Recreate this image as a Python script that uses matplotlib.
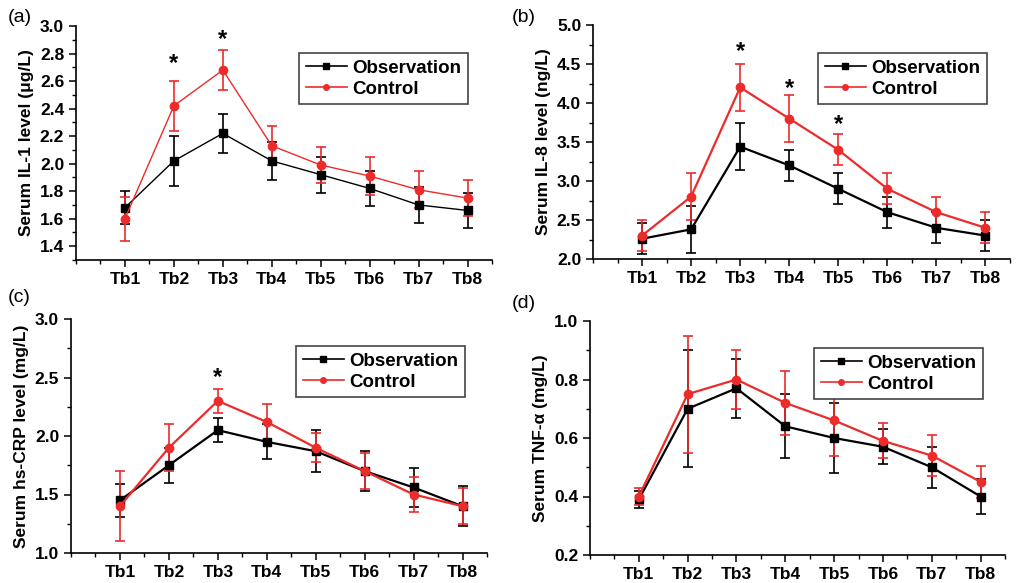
import matplotlib
matplotlib.use('Agg')
import matplotlib.pyplot as plt
from matplotlib.lines import Line2D
from matplotlib.ticker import MultipleLocator

plt.rcParams['font.family'] = ['Liberation Sans', 'DejaVu Sans']

timepoints = ['Tb1', 'Tb2', 'Tb3', 'Tb4', 'Tb5', 'Tb6', 'Tb7', 'Tb8']

# (a) IL-1
il1_obs = [1.68, 2.02, 2.22, 2.02, 1.92, 1.82, 1.70, 1.66]
il1_obs_err = [0.12, 0.18, 0.14, 0.14, 0.13, 0.13, 0.13, 0.13]
il1_ctl = [1.60, 2.42, 2.68, 2.13, 1.99, 1.91, 1.81, 1.75]
il1_ctl_err = [0.16, 0.18, 0.145, 0.14, 0.13, 0.14, 0.135, 0.133]
il1_star = {2: 2.73, 3: 2.90}

# (b) IL-8
il8_obs = [2.26, 2.38, 3.44, 3.20, 2.90, 2.60, 2.40, 2.30]
il8_obs_err = [0.2, 0.3, 0.3, 0.2, 0.2, 0.2, 0.2, 0.2]
il8_ctl = [2.30, 2.80, 4.20, 3.80, 3.40, 2.90, 2.60, 2.40]
il8_ctl_err = [0.2, 0.3, 0.3, 0.3, 0.2, 0.2, 0.2, 0.2]
il8_star = {3: 4.66, 4: 4.19, 5: 3.72}

# (c) hs-CRP
crp_obs = [1.45, 1.75, 2.05, 1.95, 1.87, 1.70, 1.56, 1.40]
crp_obs_err = [0.14, 0.15, 0.10, 0.15, 0.18, 0.17, 0.17, 0.17]
crp_ctl = [1.40, 1.90, 2.30, 2.12, 1.90, 1.70, 1.50, 1.40]
crp_ctl_err = [0.30, 0.20, 0.10, 0.155, 0.125, 0.155, 0.15, 0.155]
crp_star = {3: 2.50}

# (d) TNF-alpha
tnf_obs = [0.39, 0.70, 0.77, 0.64, 0.60, 0.57, 0.50, 0.40]
tnf_obs_err = [0.03, 0.20, 0.10, 0.11, 0.12, 0.06, 0.07, 0.06]
tnf_ctl = [0.40, 0.75, 0.80, 0.72, 0.66, 0.59, 0.54, 0.45]
tnf_ctl_err = [0.03, 0.20, 0.10, 0.11, 0.12, 0.06, 0.07, 0.055]
tnf_star = {}

RED = '#ec2b2b'
W, H = 1027.0, 583.0


def px_box(left, top, right, bottom):
    return [left / W, 1 - bottom / H, (right - left) / W, (bottom - top) / H]


panels = [
    dict(box=px_box(76, 26, 492, 260), obs=il1_obs, obs_err=il1_obs_err,
         ctl=il1_ctl, ctl_err=il1_ctl_err, stars=il1_star,
         ylim=(1.3, 3.0), major=0.2, minor=0.1, lw=1.0,
         ylabel='Serum IL-1 level (\u03bcg/L)', tag='(a)', tag_xy=(8, 17),
         leg_xy=(299, 53)),
    dict(box=px_box(593, 25, 1010, 259), obs=il8_obs, obs_err=il8_obs_err,
         ctl=il8_ctl, ctl_err=il8_ctl_err, stars=il8_star,
         ylim=(2.0, 5.0), major=0.5, minor=0.25, lw=1.6,
         ylabel='Serum IL-8 level (ng/L)', tag='(b)', tag_xy=(512, 17),
         leg_xy=(818, 53)),
    dict(box=px_box(71, 319, 487, 553), obs=crp_obs, obs_err=crp_obs_err,
         ctl=crp_ctl, ctl_err=crp_ctl_err, stars=crp_star,
         ylim=(1.0, 3.0), major=0.5, minor=0.25, lw=1.6,
         ylabel='Serum hs-CRP level (mg/L)', tag='(c)', tag_xy=(8, 297),
         leg_xy=(296, 346)),
    dict(box=px_box(590, 321, 1005, 555), obs=tnf_obs, obs_err=tnf_obs_err,
         ctl=tnf_ctl, ctl_err=tnf_ctl_err, stars=tnf_star,
         ylim=(0.2, 1.0), major=0.2, minor=0.1, lw=1.6,
         ylabel='Serum TNF-\u03b1 (mg/L)', tag='(d)', tag_xy=(512, 303),
         leg_xy=(814, 348)),
]

fig = plt.figure(figsize=(10.27, 5.83), dpi=100)
x = list(range(1, len(timepoints) + 1))

for p in panels:
    ax = fig.add_axes(p['box'])
    ax.errorbar(x, p['obs'], yerr=p['obs_err'], fmt='-s', color='black',
                ms=6, lw=p['lw'], elinewidth=1.2, capsize=3.5, capthick=1.2)
    ax.errorbar(x, p['ctl'], yerr=p['ctl_err'], fmt='-o', color=RED,
                ms=6, lw=p['lw'], elinewidth=1.2, capsize=3.5, capthick=1.2)
    for k, v in p['stars'].items():
        ax.text(k, v, '*', ha='center', va='center', fontsize=17,
                fontweight='bold')

    ax.set_xlim(0, 8.5)
    ax.set_ylim(*p['ylim'])
    ax.set_xticks(x)
    ax.set_xticklabels(timepoints)
    ax.xaxis.set_minor_locator(MultipleLocator(0.5))
    ax.yaxis.set_major_locator(MultipleLocator(p['major']))
    ax.yaxis.set_minor_locator(MultipleLocator(p['minor']))
    ax.yaxis.set_major_formatter(plt.FormatStrFormatter('%.1f'))
    for side in ('top', 'right'):
        ax.spines[side].set_visible(False)
    for side in ('left', 'bottom'):
        ax.spines[side].set_linewidth(1.2)
    ax.tick_params(which='major', direction='out', length=5, width=1.1,
                   labelsize=12.5)
    ax.tick_params(which='minor', direction='out', length=3, width=1.0)
    for lab in ax.get_xticklabels() + ax.get_yticklabels():
        lab.set_fontweight('bold')
    ax.set_ylabel(p['ylabel'], fontsize=12.5, fontweight='bold', labelpad=4)

    # legend shows line + marker only, no error bars
    handles = [
        Line2D([], [], color='black', marker='s', ms=4, lw=1.2),
        Line2D([], [], color=RED, marker='o', ms=4, lw=1.2),
    ]
    leg = ax.legend(handles, ['Observation', 'Control'], loc='upper left',
                    bbox_to_anchor=(p['leg_xy'][0] / W, 1 - p['leg_xy'][1] / H),
                    bbox_transform=fig.transFigure, borderaxespad=0,
                    fancybox=False, framealpha=1, edgecolor='#444444',
                    prop={'size': 13.5, 'weight': 'bold'},
                    handlelength=2.2, handletextpad=0.3, labelspacing=0.2,
                    borderpad=0.35)
    leg.get_frame().set_linewidth(1.2)

    fig.text(p['tag_xy'][0] / W, 1 - p['tag_xy'][1] / H, p['tag'],
             fontsize=14, ha='left', va='center')

fig.savefig('out.png', dpi=100)
